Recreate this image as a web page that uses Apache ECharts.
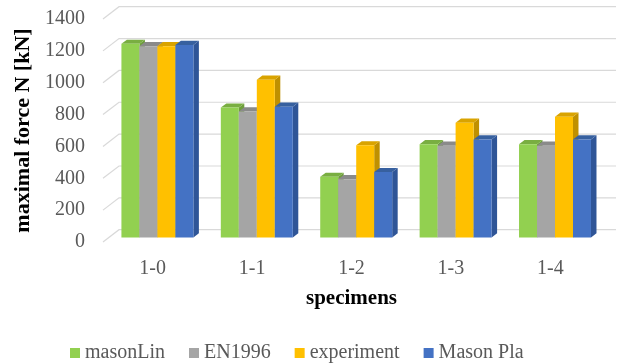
<!DOCTYPE html>
<html>
<head>
<meta charset="utf-8">
<script src="https://cdn.jsdelivr.net/npm/echarts@6/dist/echarts.min.js"></script>
<style>html,body{margin:0;padding:0;background:#fff}#c{width:617px;height:364px}</style>
</head>
<body>
<div id="c"></div>
<script>
const categories = ['1-0', '1-1', '1-2', '1-3', '1-4'];
const masonLin = [1215, 815, 380, 585, 585];
const en1996 = [1200, 790, 365, 575, 575];
const experiment = [1200, 990, 578, 720, 757];
const masonPla = [1208, 820, 410, 615, 615];
const yTicks = [0, 200, 400, 600, 800, 1000, 1200, 1400];

const seriesNames = ['masonLin', 'EN1996', 'experiment', 'Mason Pla'];
const seriesValues = [masonLin, en1996, experiment, masonPla];
const frontColors = ['#92D050', '#A5A5A5', '#FFC000', '#4472C4'];
const sideColors = ['#6E9E3C', '#7C7C7C', '#BF9000', '#2F5597'];
const topColors = ['#79AE41', '#8A8A8A', '#D9A300', '#37609F'];

const FONT = '"Liberation Serif", "Times New Roman", serif';
const DX = 5.5, DY = -4.2;       // bar depth projection
const SX = 5.5, SY = -4.6;       // bar offset behind front plane
const WX = 16, WY = -12.3;       // back wall offset

function barRenderer(si) {
  return function (params, api) {
    const ci = api.value(0), v = api.value(1);
    const base = api.coord([ci, 0]);
    const top = api.coord([ci, v]);
    const band = api.size([1, 0])[0];
    const bw = band * 0.181;
    const x0 = base[0] - band * 0.37 + SX + si * bw;
    const y0 = base[1] + SY, y1 = top[1] + SY;
    return {
      type: 'group',
      children: [
        { type: 'polygon', shape: { points: [[x0 + bw, y1], [x0 + bw + DX, y1 + DY], [x0 + bw + DX, y0 + DY], [x0 + bw, y0]] }, style: { fill: sideColors[si] } },
        { type: 'polygon', shape: { points: [[x0, y1], [x0 + DX, y1 + DY], [x0 + bw + DX, y1 + DY], [x0 + bw, y1]] }, style: { fill: topColors[si] } },
        { type: 'rect', shape: { x: x0, y: y1, width: bw, height: y0 - y1 }, style: { fill: frontColors[si] } }
      ]
    };
  };
}

const series = [{
  type: 'custom',
  name: 'grid',
  z: 1,
  silent: true,
  data: yTicks.map(t => [0, t]),
  renderItem: function (params, api) {
    const cs = params.coordSys;
    const y = api.coord([0, api.value(1)])[1];
    return {
      type: 'polyline',
      shape: { points: [[cs.x, y], [cs.x + WX, y + WY], [cs.x + cs.width + WX, y + WY]] },
      style: { stroke: '#d9d9d9', lineWidth: 1.2, fill: null }
    };
  }
}];
seriesValues.forEach((vals, si) => {
  series.push({
    type: 'custom',
    name: seriesNames[si],
    z: 2,
    itemStyle: { color: frontColors[si] },
    data: vals.map((v, i) => [i, v]),
    encode: { x: 0, y: 1 },
    renderItem: barRenderer(si)
  });
});

const chart = echarts.init(document.getElementById('c'), null, { renderer: 'canvas' });
chart.setOption({
  animation: false,
  backgroundColor: '#fff',
  textStyle: { fontFamily: FONT },
  grid: { left: 103, right: 17, top: 19, bottom: 122 },
  legend: {
    data: seriesNames,
    left: 65,
    top: 338,
    icon: 'rect',
    itemWidth: 10,
    itemHeight: 10,
    itemGap: 24,
    textStyle: { fontFamily: FONT, fontSize: 20, color: '#595959' }
  },
  xAxis: {
    type: 'category',
    data: categories,
    axisLine: { show: false },
    axisTick: { show: false },
    axisLabel: { color: '#595959', fontSize: 20, fontFamily: FONT, margin: 17 },
    name: 'specimens',
    nameLocation: 'middle',
    nameGap: 46,
    nameTextStyle: { color: '#000', fontSize: 21, fontWeight: 'bold', fontFamily: FONT }
  },
  yAxis: {
    type: 'value',
    min: 0,
    max: 1400,
    interval: 200,
    axisLine: { show: false },
    axisTick: { show: false },
    splitLine: { show: false },
    axisLabel: { color: '#595959', fontSize: 20, fontFamily: FONT, margin: 18, formatter: v => String(v) },
    name: 'maximal force N [kN]',
    nameLocation: 'middle',
    nameGap: 59,
    nameTextStyle: { color: '#000', fontSize: 22, fontWeight: 'bold', fontFamily: FONT }
  },
  series: series
});
</script>
</body>
</html>
